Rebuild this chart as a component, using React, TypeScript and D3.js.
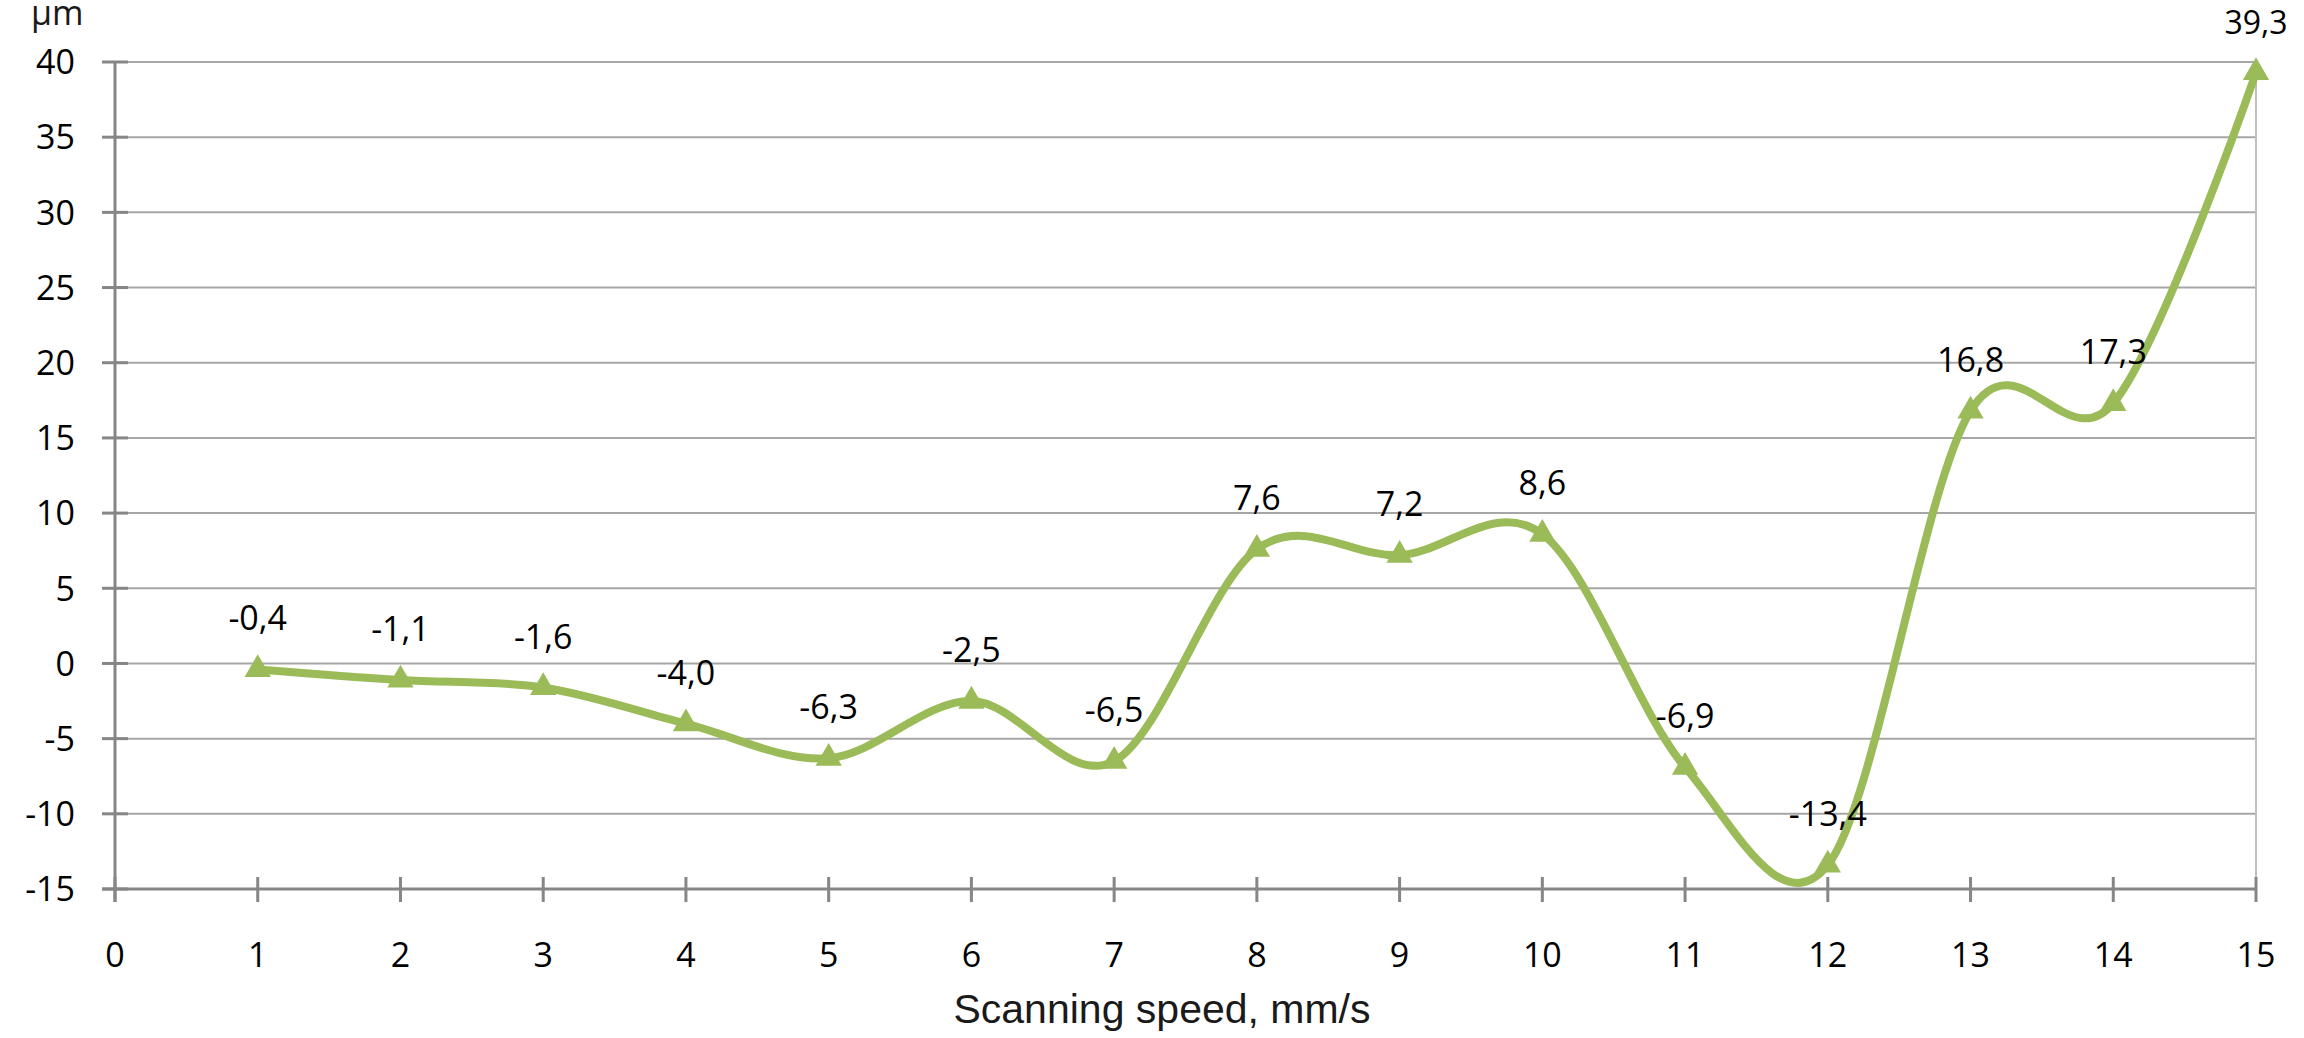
import React, { useRef, useEffect } from 'react';
import * as d3 from 'd3';

// scanning speed, mm/s
const speeds = [1, 2, 3, 4, 5, 6, 7, 8, 9, 10, 11, 12, 13, 14, 15];
// deviation, µm
const deviations = [-0.4, -1.1, -1.6, -4.0, -6.3, -2.5, -6.5, 7.6, 7.2, 8.6, -6.9, -13.4, 16.8, 17.3, 39.3];
const xTicks = [0, 1, 2, 3, 4, 5, 6, 7, 8, 9, 10, 11, 12, 13, 14, 15];
const yTicks = [-15, -10, -5, 0, 5, 10, 15, 20, 25, 30, 35, 40];

const W = 2304;
const H = 1038;
const CAL = "'Open Sans', 'Noto Sans', sans-serif";

export default function App() {
    const svgRef = useRef<SVGSVGElement>(null);

    useEffect(() => {
        if (!svgRef.current) return;
        const svg = d3.select(svgRef.current);
        svg.selectAll("*").remove();

        const x = d3.scaleLinear().domain([0, 15]).range([115, 2256]);
        const y = d3.scaleLinear().domain([-15, 40]).range([889, 62]);

        const pts = speeds.map((s, i) => ({ s, v: deviations[i] }));

        // horizontal grid
        svg.append("g")
            .selectAll("line")
            .data(yTicks.filter(t => t !== -15))
            .join("line")
            .attr("x1", x(0)).attr("x2", x(15))
            .attr("y1", d => y(d)).attr("y2", d => y(d))
            .attr("stroke", "#a6a6a6")
            .attr("stroke-width", 2);

        // right border
        svg.append("line")
            .attr("x1", x(15)).attr("x2", x(15))
            .attr("y1", y(40)).attr("y2", y(-15))
            .attr("stroke", "#bfbfbf")
            .attr("stroke-width", 2);

        // y axis
        svg.append("line")
            .attr("x1", x(0)).attr("x2", x(0))
            .attr("y1", y(40)).attr("y2", y(-15) + 13)
            .attr("stroke", "#868686")
            .attr("stroke-width", 3);
        svg.append("g")
            .selectAll("line")
            .data(yTicks)
            .join("line")
            .attr("x1", x(0) - 13).attr("x2", x(0) + 13)
            .attr("y1", d => y(d)).attr("y2", d => y(d))
            .attr("stroke", "#868686")
            .attr("stroke-width", 3);
        svg.append("g")
            .selectAll("text")
            .data(yTicks)
            .join("text")
            .attr("x", 75)
            .attr("y", d => y(d))
            .attr("dy", "0.36em")
            .attr("text-anchor", "end")
            .attr("font-family", CAL)
            .attr("font-size", 34)
            .attr("fill", "#000")
            .text(d => String(d));

        // x axis
        svg.append("line")
            .attr("x1", x(0) - 13).attr("x2", x(15))
            .attr("y1", y(-15)).attr("y2", y(-15))
            .attr("stroke", "#868686")
            .attr("stroke-width", 3);
        svg.append("g")
            .selectAll("line")
            .data(xTicks)
            .join("line")
            .attr("x1", d => x(d)).attr("x2", d => x(d))
            .attr("y1", y(-15) - 12).attr("y2", y(-15) + 13)
            .attr("stroke", "#868686")
            .attr("stroke-width", 3);
        svg.append("g")
            .selectAll("text")
            .data(xTicks)
            .join("text")
            .attr("x", d => x(d))
            .attr("y", 967)
            .attr("text-anchor", "middle")
            .attr("font-family", CAL)
            .attr("font-size", 34)
            .attr("fill", "#000")
            .text(d => String(d));

        // axis titles
        svg.append("text")
            .attr("x", 1162)
            .attr("y", 1023)
            .attr("text-anchor", "middle")
            .attr("font-family", "'Liberation Sans', Arial, sans-serif")
            .attr("font-size", 41)
            .attr("fill", "#1a1a1a")
            .text("Scanning speed, mm/s");
        svg.append("text")
            .attr("x", 31)
            .attr("y", 25)
            .attr("font-family", CAL)
            .attr("font-size", 34)
            .attr("fill", "#1a1a1a")
            .text("µm");

        // smoothed line
        const line = d3.line<{ s: number; v: number }>()
            .x(d => x(d.s))
            .y(d => y(d.v))
            .curve(d3.curveCardinal.tension(0));
        svg.append("path")
            .datum(pts)
            .attr("fill", "none")
            .attr("stroke", "#9bbb59")
            .attr("stroke-width", 8)
            .attr("stroke-linejoin", "round")
            .attr("d", line);

        // triangle markers
        const tri = d3.symbol().type(d3.symbolTriangle).size(300);
        svg.append("g")
            .selectAll("path")
            .data(pts)
            .join("path")
            .attr("transform", d => `translate(${x(d.s)},${y(d.v)})`)
            .attr("d", tri)
            .attr("fill", "#9bbb59");

        // data labels
        svg.append("g")
            .selectAll("text")
            .data(pts)
            .join("text")
            .attr("x", d => x(d.s))
            .attr("y", d => y(d.v) - 39)
            .attr("text-anchor", "middle")
            .attr("font-family", CAL)
            .attr("font-size", d => (d.s === 15 ? 32 : 34))
            .attr("fill", "#000")
            .text(d => d.v.toFixed(1).replace(".", ","));
    }, []);

    return (
        <div style={{ position: "fixed", left: 0, top: 0, width: W, height: H, background: "#fff" }}>
            <svg ref={svgRef} width={W} height={H} viewBox={`0 0 ${W} ${H}`} />
        </div>
    );
}
